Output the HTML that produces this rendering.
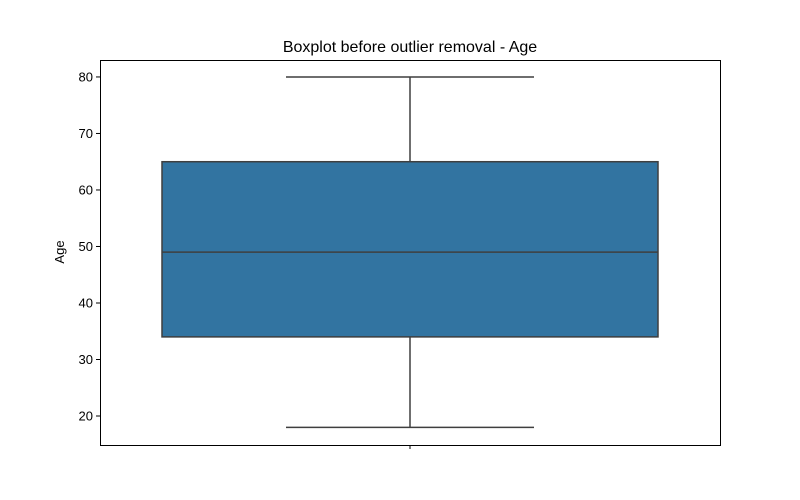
<!DOCTYPE html>
<html><head><meta charset="utf-8"><style>
body{margin:0;background:#fff;}
svg{display:block;font-family:"Liberation Sans","DejaVu Sans",sans-serif;}
</style></head><body>
<svg id="chart" width="800" height="500">
<rect width="800" height="500" fill="#fff"/>
<text x="410" y="52" text-anchor="middle" font-size="16" fill="#000">Boxplot before outlier removal - Age</text>
<text transform="translate(64,252) rotate(-90)" text-anchor="middle" font-size="13" fill="#000">Age</text>
<g id="plot"></g>
<rect x="100.5" y="60.5" width="620" height="385" fill="none" stroke="#000" stroke-width="1"/>
</svg>
<script>
const yTicks=[20,30,40,50,60,70,80];
const stats=[18,34,49,65,80]; // min,q1,median,q3,max
const yMin=14.87,yMax=83.0;
const pTop=60,pBottom=445,pLeft=100,pRight=720;
function y(v){return pBottom-(v-yMin)/(yMax-yMin)*(pBottom-pTop);}
const NS="http://www.w3.org/2000/svg";
const g=document.getElementById('plot');
function mk(t,a){const e=document.createElementNS(NS,t);for(const k in a)e.setAttribute(k,a[k]);g.appendChild(e);return e;}
yTicks.forEach(v=>{
 const l=mk('line',{x1:pLeft-4,x2:pLeft,y1:y(v),y2:y(v),stroke:'#000'});
 
 
 const t=mk('text',{x:pLeft-7,y:y(v)+4.5,'text-anchor':'end','font-size':13,fill:'#000'});
 t.textContent=v;
 
 
});
const cx=410,bw=496,cw=248,lc='#3f3f3f';
const xt=mk('line',{x1:cx,x2:cx,y1:pBottom,y2:pBottom+4,stroke:'#000'});


const w1=mk('line',{x1:cx,x2:cx,y1:y(stats[0]),y2:y(stats[1]),stroke:lc,'stroke-width':1.5});


const w2=mk('line',{x1:cx,x2:cx,y1:y(stats[3]),y2:y(stats[4]),stroke:lc,'stroke-width':1.5});


const c1=mk('line',{x1:cx-cw/2,x2:cx+cw/2,y1:y(stats[0]),y2:y(stats[0]),stroke:lc,'stroke-width':1.5});


const c2=mk('line',{x1:cx-cw/2,x2:cx+cw/2,y1:y(stats[4]),y2:y(stats[4]),stroke:lc,'stroke-width':1.5});


const b=mk('rect',{x:cx-bw/2,y:y(stats[3]),width:bw,height:y(stats[1])-y(stats[3]),fill:'#3274a1',stroke:lc,'stroke-width':1.5});


const m=mk('line',{x1:cx-bw/2,x2:cx+bw/2,y1:y(stats[2]),y2:y(stats[2]),stroke:lc,'stroke-width':1.5});


</script>
</body></html>
